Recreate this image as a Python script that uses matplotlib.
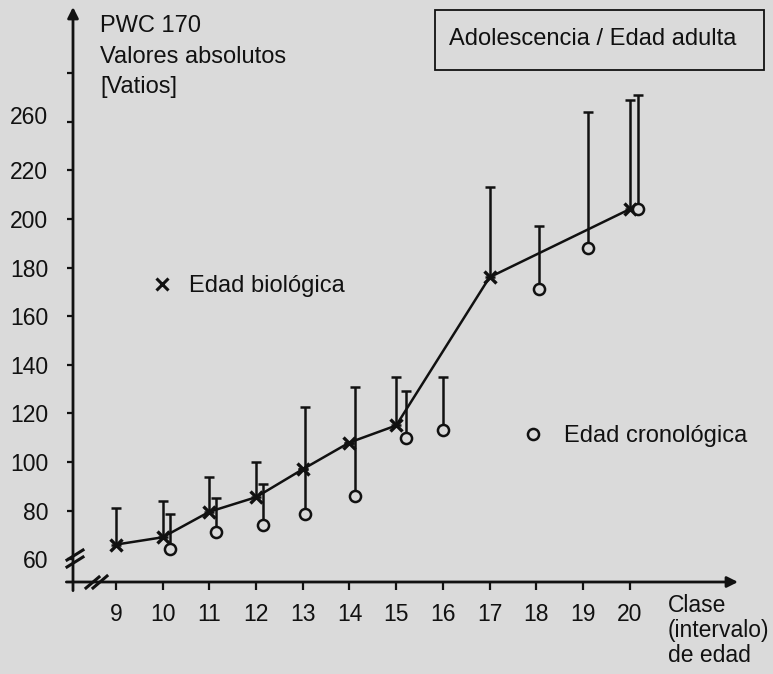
import matplotlib.pyplot as plt
from matplotlib.lines import Line2D
from matplotlib.patches import Rectangle
from matplotlib.transforms import ScaledTranslation

# Edad biológica (x markers joined by a line)
bioClase = [9, 10, 11, 12, 13, 14, 15, 17, 20]
bioPWC = [66, 69, 79.5, 85.5, 97, 108, 115, 176, 204]
bioTop = [81, 84, 94, 100, 97, 108, 135, 213, 249]

# Edad cronológica (open circles)
cronoClase = [10.15, 11.15, 12.15, 13.05, 14.12, 15.2, 16.0, 18.05, 19.1, 20.18]
cronoPWC = [64, 71, 74, 78.5, 86, 110, 113, 171, 188, 204]
cronoTop = [78.5, 85, 91, 122.5, 131, 129, 135, 197, 244, 251]

xTicks = [9, 10, 11, 12, 13, 14, 15, 16, 17, 18, 19, 20]
yTicks = [60, 80, 100, 120, 140, 160, 180, 200, 220, 240, 260]
yTickLabels = ["60", "80", "100", "120", "140", "160", "180", "200", "220", "260", ""]

bg = "#dadada"
ink = "#111111"
W, H = 773, 674
fs = 17
plt.rcParams["font.family"] = ["Liberation Sans", "DejaVu Sans"]


def fx(px):
    return px / W


def fy(py):
    return 1 - py / H


fig = plt.figure(figsize=(W / 100, H / 100), dpi=100, facecolor=bg)
ax = fig.add_axes([fx(73), fy(582), fx(738) - fx(73), fy(7) - fy(582)])
ax.set_facecolor(bg)
ax.set_xlim(8.08, 22.32)
ax.set_ylim(50.6, 287.2)
for s in ax.spines.values():
    s.set_visible(False)

# axes with arrows
ax.annotate("", xy=(0, 1), xytext=(0, -0.015), xycoords="axes fraction",
            arrowprops=dict(arrowstyle="-|>", lw=2, color=ink, mutation_scale=16,
                            shrinkA=0, shrinkB=0))
ax.annotate("", xy=(1, 0), xytext=(-0.01, 0), xycoords="axes fraction",
            arrowprops=dict(arrowstyle="-|>", lw=2, color=ink, mutation_scale=16,
                            shrinkA=0, shrinkB=0))

ax.set_xticks(xTicks)
ax.set_xticklabels([str(t) for t in xTicks])
ax.set_yticks(yTicks)
ax.set_yticklabels(yTickLabels)
ax.tick_params(axis="y", direction="out", length=4, width=1.6, color=ink,
               labelsize=fs - 0.5, pad=14, labelcolor=ink)
ax.tick_params(axis="x", direction="out", length=6, width=1.6, color=ink,
               labelsize=fs - 0.5, pad=9, labelcolor=ink)

# the "260" label sits a little above its tick in the original
lab = ax.get_yticklabels()[9]
lab.set_transform(lab.get_transform() + ScaledTranslation(0, 0.07, fig.dpi_scale_trans))

# error bars (upward only)
bioUp = [t - v for t, v in zip(bioTop, bioPWC)]
cronoUp = [t - v for t, v in zip(cronoTop, cronoPWC)]
ax.errorbar(bioClase, bioPWC, yerr=[[0] * len(bioPWC), bioUp], fmt="none",
            ecolor=ink, elinewidth=1.8, capsize=3.6, capthick=1.8, zorder=2)
ax.errorbar(cronoClase, cronoPWC, yerr=[[0] * len(cronoPWC), cronoUp], fmt="none",
            ecolor=ink, elinewidth=1.8, capsize=3.6, capthick=1.8, zorder=2)

ax.plot(bioClase, bioPWC, color=ink, lw=1.8, marker="x", markersize=9,
        markeredgewidth=2.4, zorder=3)
ax.plot(cronoClase, cronoPWC, ls="none", marker="o", markersize=8,
        markerfacecolor=bg, markeredgecolor=ink, markeredgewidth=1.8, zorder=4)

# legends placed as in the figure
h1 = Line2D([], [], ls="none", marker="x", markersize=8, markeredgewidth=2.2, color=ink)
h2 = Line2D([], [], ls="none", marker="o", markersize=8, markerfacecolor=bg,
            markeredgecolor=ink, markeredgewidth=1.8)
leg1 = fig.legend([h1], ["Edad biológica"], loc="center left",
                  bbox_to_anchor=(fx(150), fy(286)), frameon=False, fontsize=fs,
                  handlelength=1, handletextpad=0.65, borderpad=0, borderaxespad=0,
                  labelcolor=ink)
leg2 = fig.legend([h2], ["Edad cronológica"], loc="center left",
                  bbox_to_anchor=(fx(521), fy(436)), frameon=False, fontsize=fs,
                  handlelength=1, handletextpad=0.8, borderpad=0, borderaxespad=0,
                  labelcolor=ink)

# axis break marks
for (x0, y0, x1, y1) in [(67, 567, 83, 557), (67, 560, 83, 550),
                         (86, 588, 99, 577), (93, 588, 107, 576)]:
    fig.add_artist(Line2D([fx(x0), fx(x1)], [fy(y0), fy(y1)], color=ink, lw=2.2))

# titles
fig.text(fx(100), fy(26), "PWC 170", fontsize=fs, va="center", color=ink)
fig.text(fx(100), fy(57), "Valores absolutos", fontsize=fs, va="center", color=ink)
fig.text(fx(100), fy(87), "[Vatios]", fontsize=fs, va="center", color=ink)

fig.add_artist(Rectangle((fx(435), fy(70)), fx(764) - fx(435), fy(10) - fy(70),
                         fill=False, edgecolor=ink, lw=1.3))
fig.text(fx(449), fy(39), "Adolescencia / Edad adulta", fontsize=fs,
         va="center", color=ink)

fig.text(fx(668), fy(605), "Clase", fontsize=fs - 0.5, va="center", color=ink)
fig.text(fx(668), fy(630), "(intervalo)", fontsize=fs - 0.5, va="center", color=ink)
fig.text(fx(668), fy(655), "de edad", fontsize=fs - 0.5, va="center", color=ink)

fig.savefig("out.png", dpi=100, facecolor=bg)
